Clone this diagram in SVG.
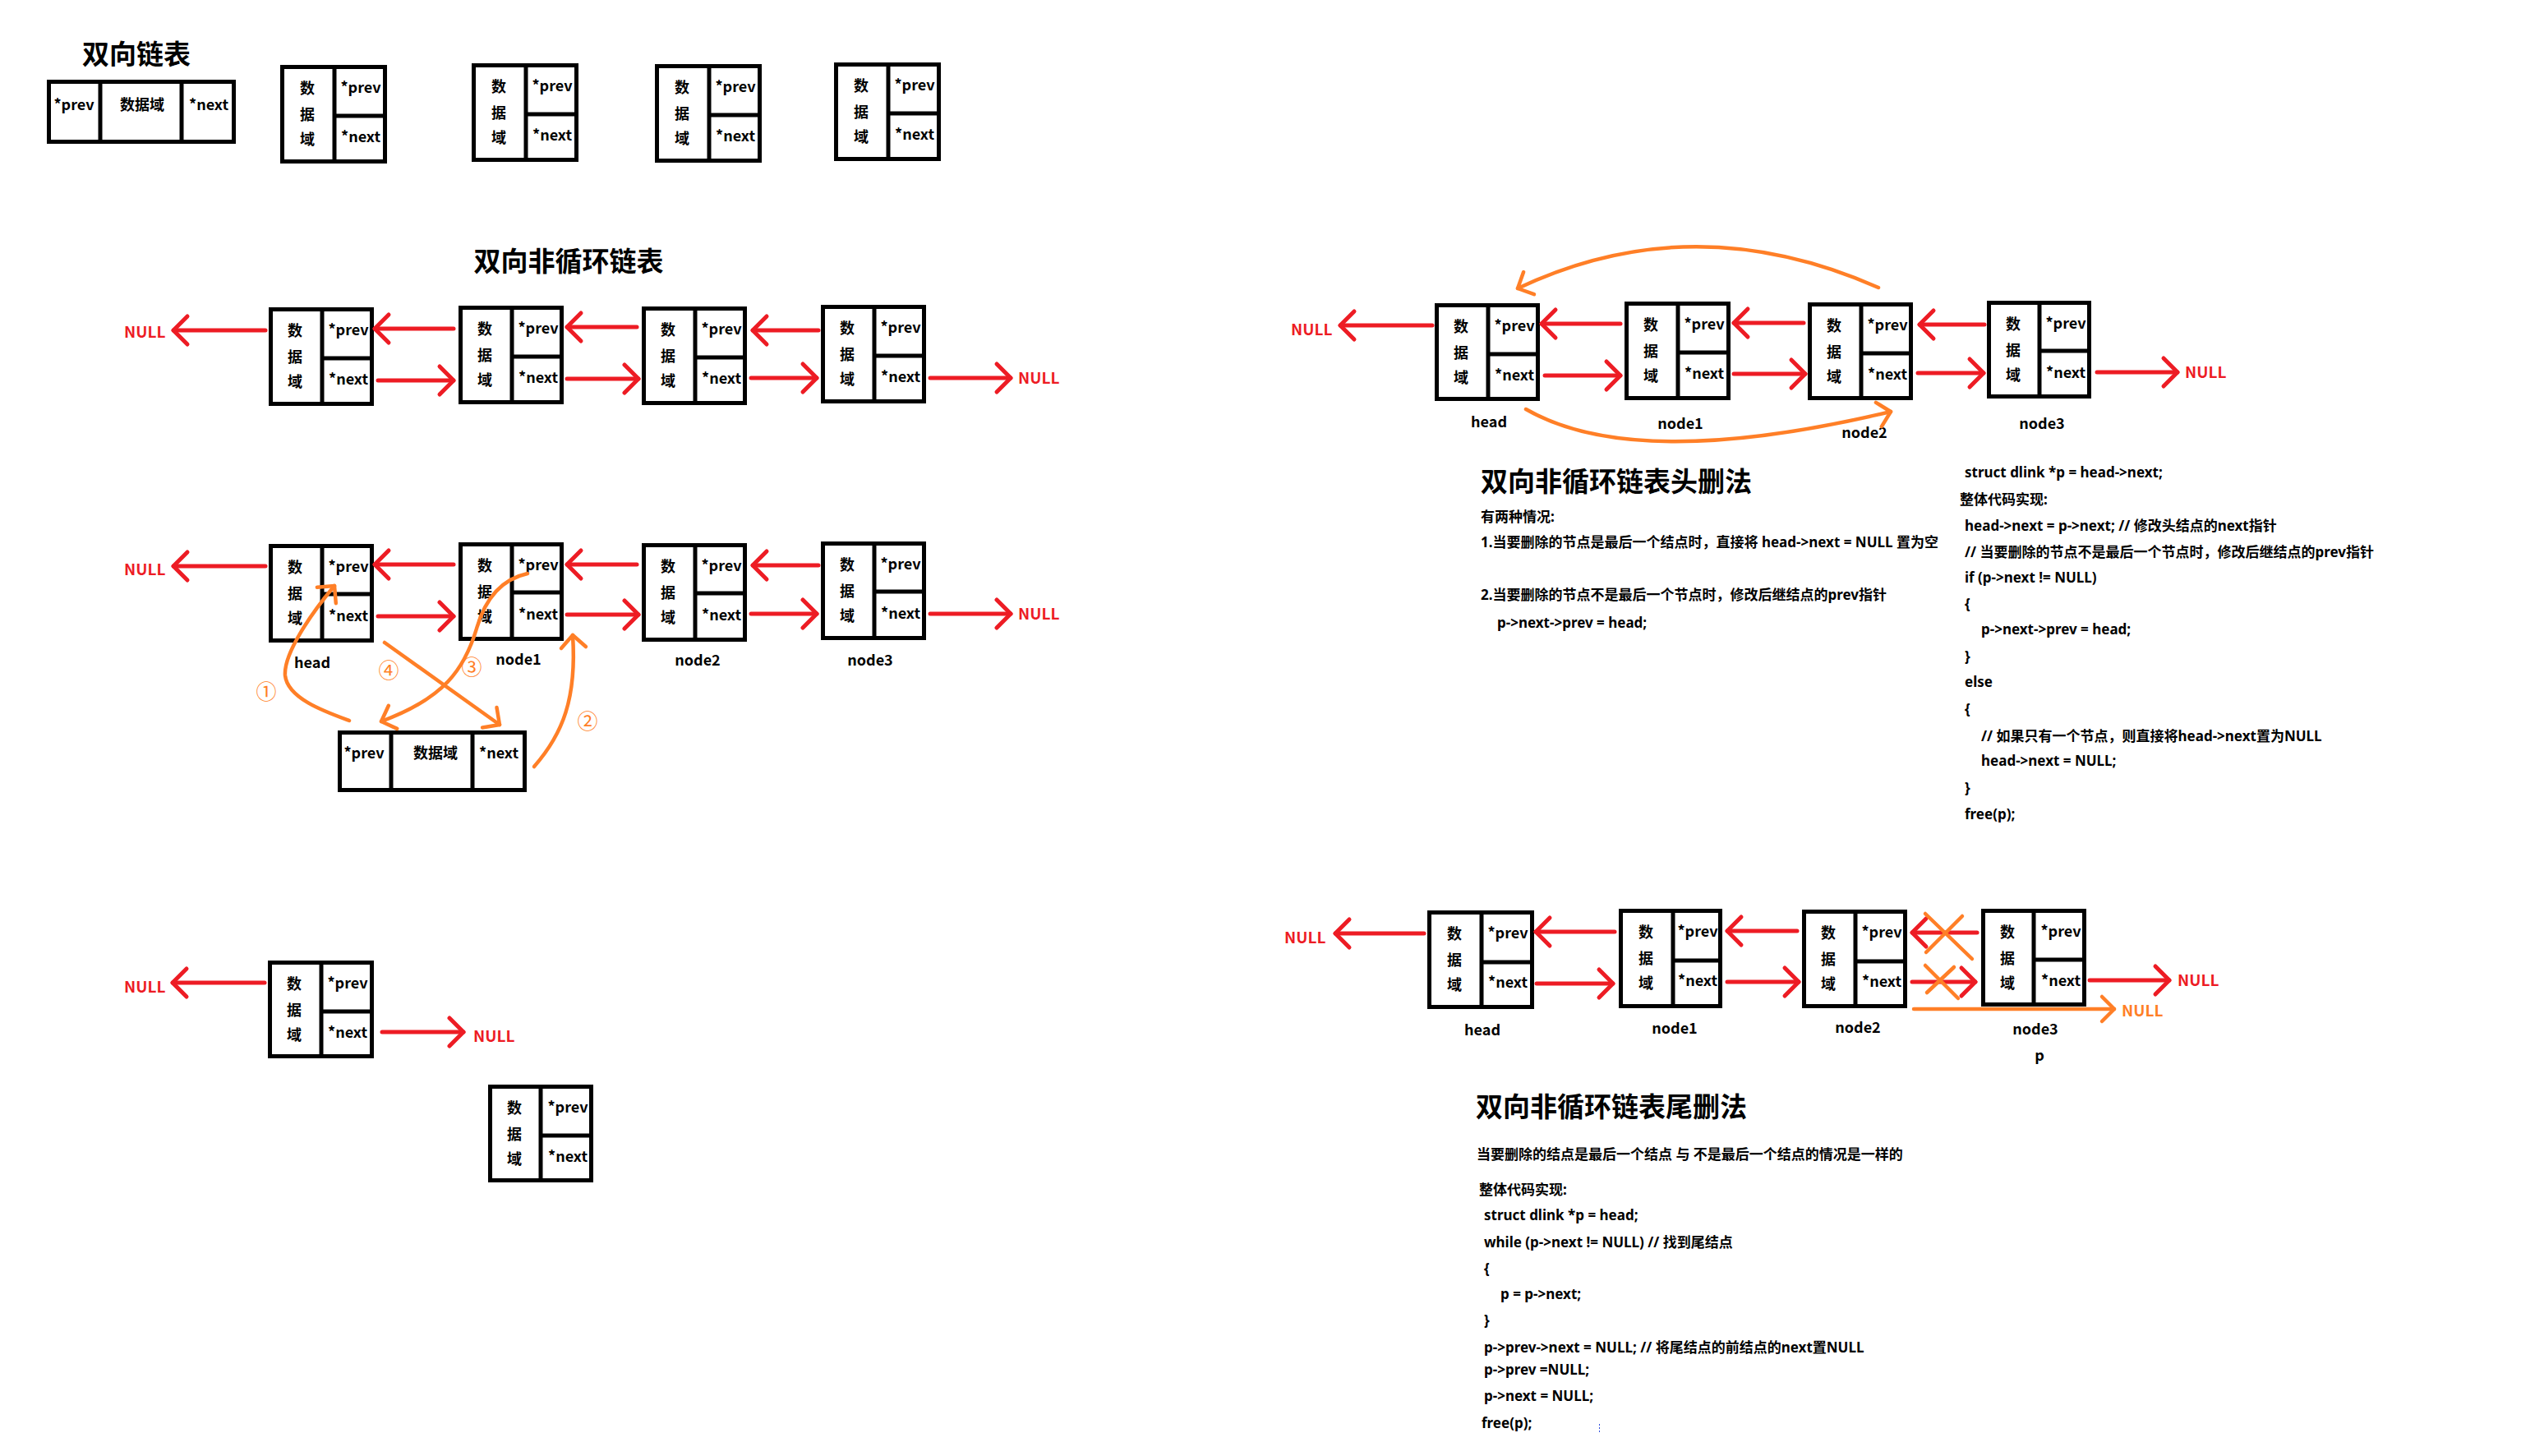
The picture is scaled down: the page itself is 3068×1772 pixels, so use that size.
<svg xmlns="http://www.w3.org/2000/svg" width="3068" height="1772" viewBox="0 0 3068 1772">
  <style>
    .box { fill: #fff; stroke: #000; stroke-width: 5; }
    .dv { stroke: #000; stroke-width: 5; }
    .t { font-family: "Noto Sans CJK SC", "Noto Sans", sans-serif; font-weight: 700; font-size: 18px; fill: #000; }
    .c { text-anchor: middle; }
    .p { font-family: "Noto Sans", "Noto Sans CJK SC", sans-serif; font-size: 17px; }
    .h1 { font-size: 33px; }
    .nul { fill: #ED1C24; font-size: 19px; }
    .onul { fill: #FF7F27; font-size: 19px; }
    .num { fill: #FF7F27; font-size: 25px; font-weight: 400; }
    .red { fill: none; stroke: #ED1C24; stroke-width: 5; stroke-linecap: round; marker-end: url(#ar); }
    .org { fill: none; stroke: #FF7F27; stroke-width: 4.5; stroke-linecap: round; marker-end: url(#ao); }
    .cross { fill: none; stroke: #FF7F27; stroke-width: 4.5; stroke-linecap: round; }
  </style>
  <defs>
    <marker id="ar" markerUnits="userSpaceOnUse" markerWidth="40" markerHeight="40" refX="20" refY="20" orient="auto" overflow="visible">
      <path d="M3,3 L20,20 L3,37" fill="none" stroke="#ED1C24" stroke-width="5" stroke-linecap="round" stroke-linejoin="round"/>
    </marker>
    <marker id="ao" markerUnits="userSpaceOnUse" markerWidth="40" markerHeight="40" refX="20" refY="20" orient="auto" overflow="visible">
      <path d="M5,5 L20,20 L5,35" fill="none" stroke="#FF7F27" stroke-width="4.5" stroke-linecap="round" stroke-linejoin="round"/>
    </marker>
  </defs>
  <rect width="3068" height="1772" fill="#fff"/>

  <!-- titles -->
  <text class="t h1" x="100" y="78">双向链表</text>
  <text class="t h1 c" x="692" y="330">双向非循环链表</text>

  <!-- ===== node layouts: first section ===== -->
  <g id="node-h0" transform="translate(57,97)">
    <rect class="box" x="2.5" y="2.5" width="225" height="73"/>
    <line class="dv" x1="65" y1="0" x2="65" y2="78"/>
    <line class="dv" x1="164" y1="0" x2="164" y2="78"/>
    <text class="t c" x="33" y="37">*prev</text>
    <text class="t c" x="116" y="37">数据域</text>
    <text class="t c" x="197" y="37">*next</text>
  </g>
  <g id="node-t1" transform="translate(341,79)">
    <rect class="box" x="2.5" y="2.5" width="125" height="115"/>
    <line class="dv" x1="66" y1="0" x2="66" y2="120"/>
    <line class="dv" x1="66" y1="62" x2="130" y2="62"/>
    <text class="t c" x="33" y="35">数</text><text class="t c" x="33" y="67">据</text><text class="t c" x="33" y="97">域</text>
    <text class="t c" x="98" y="34">*prev</text><text class="t c" x="98" y="94">*next</text>
  </g>
  <g id="node-t2" transform="translate(574,77)">
    <rect class="box" x="2.5" y="2.5" width="125" height="115"/>
    <line class="dv" x1="66" y1="0" x2="66" y2="120"/>
    <line class="dv" x1="66" y1="62" x2="130" y2="62"/>
    <text class="t c" x="33" y="35">数</text><text class="t c" x="33" y="67">据</text><text class="t c" x="33" y="97">域</text>
    <text class="t c" x="98" y="34">*prev</text><text class="t c" x="98" y="94">*next</text>
  </g>
  <g id="node-t3" transform="translate(797,78)">
    <rect class="box" x="2.5" y="2.5" width="125" height="115"/>
    <line class="dv" x1="66" y1="0" x2="66" y2="120"/>
    <line class="dv" x1="66" y1="62" x2="130" y2="62"/>
    <text class="t c" x="33" y="35">数</text><text class="t c" x="33" y="67">据</text><text class="t c" x="33" y="97">域</text>
    <text class="t c" x="98" y="34">*prev</text><text class="t c" x="98" y="94">*next</text>
  </g>
  <g id="node-t4" transform="translate(1015,76)">
    <rect class="box" x="2.5" y="2.5" width="125" height="115"/>
    <line class="dv" x1="66" y1="0" x2="66" y2="120"/>
    <line class="dv" x1="66" y1="62" x2="130" y2="62"/>
    <text class="t c" x="33" y="35">数</text><text class="t c" x="33" y="67">据</text><text class="t c" x="33" y="97">域</text>
    <text class="t c" x="98" y="34">*prev</text><text class="t c" x="98" y="94">*next</text>
  </g>

  <!-- ===== chain of four ===== -->
  <g id="node-a1" transform="translate(327,374)">
    <rect class="box" x="2.5" y="2.5" width="123" height="115"/>
    <line class="dv" x1="65" y1="0" x2="65" y2="120"/>
    <line class="dv" x1="65" y1="62" x2="128" y2="62"/>
    <text class="t c" x="32" y="35">数</text><text class="t c" x="32" y="67">据</text><text class="t c" x="32" y="97">域</text>
    <text class="t c" x="97" y="34">*prev</text><text class="t c" x="97" y="94">*next</text>
  </g>
  <g id="node-a2" transform="translate(558,372)">
    <rect class="box" x="2.5" y="2.5" width="123" height="115"/>
    <line class="dv" x1="65" y1="0" x2="65" y2="120"/>
    <line class="dv" x1="65" y1="62" x2="128" y2="62"/>
    <text class="t c" x="32" y="35">数</text><text class="t c" x="32" y="67">据</text><text class="t c" x="32" y="97">域</text>
    <text class="t c" x="97" y="34">*prev</text><text class="t c" x="97" y="94">*next</text>
  </g>
  <g id="node-a3" transform="translate(781,373)">
    <rect class="box" x="2.5" y="2.5" width="123" height="115"/>
    <line class="dv" x1="65" y1="0" x2="65" y2="120"/>
    <line class="dv" x1="65" y1="62" x2="128" y2="62"/>
    <text class="t c" x="32" y="35">数</text><text class="t c" x="32" y="67">据</text><text class="t c" x="32" y="97">域</text>
    <text class="t c" x="97" y="34">*prev</text><text class="t c" x="97" y="94">*next</text>
  </g>
  <g id="node-a4" transform="translate(999,371)">
    <rect class="box" x="2.5" y="2.5" width="123" height="115"/>
    <line class="dv" x1="65" y1="0" x2="65" y2="120"/>
    <line class="dv" x1="65" y1="62" x2="128" y2="62"/>
    <text class="t c" x="32" y="35">数</text><text class="t c" x="32" y="67">据</text><text class="t c" x="32" y="97">域</text>
    <text class="t c" x="97" y="34">*prev</text><text class="t c" x="97" y="94">*next</text>
  </g>

  <!-- ===== insertion after head ===== -->
  <g id="node-b-head" transform="translate(327,662)">
    <rect class="box" x="2.5" y="2.5" width="123" height="115"/>
    <line class="dv" x1="65" y1="0" x2="65" y2="120"/>
    <line class="dv" x1="65" y1="61" x2="128" y2="61"/>
    <text class="t c" x="32" y="35">数</text><text class="t c" x="32" y="67">据</text><text class="t c" x="32" y="97">域</text>
    <text class="t c" x="97" y="34">*prev</text><text class="t c" x="97" y="94">*next</text>
  </g>
  <g id="node-b-1" transform="translate(558,660)">
    <rect class="box" x="2.5" y="2.5" width="123" height="115"/>
    <line class="dv" x1="65" y1="0" x2="65" y2="120"/>
    <line class="dv" x1="65" y1="61" x2="128" y2="61"/>
    <text class="t c" x="32" y="35">数</text><text class="t c" x="32" y="67">据</text><text class="t c" x="32" y="97">域</text>
    <text class="t c" x="97" y="34">*prev</text><text class="t c" x="97" y="94">*next</text>
  </g>
  <g id="node-b-2" transform="translate(781,661)">
    <rect class="box" x="2.5" y="2.5" width="123" height="115"/>
    <line class="dv" x1="65" y1="0" x2="65" y2="120"/>
    <line class="dv" x1="65" y1="61" x2="128" y2="61"/>
    <text class="t c" x="32" y="35">数</text><text class="t c" x="32" y="67">据</text><text class="t c" x="32" y="97">域</text>
    <text class="t c" x="97" y="34">*prev</text><text class="t c" x="97" y="94">*next</text>
  </g>
  <g id="node-b-3" transform="translate(999,659)">
    <rect class="box" x="2.5" y="2.5" width="123" height="115"/>
    <line class="dv" x1="65" y1="0" x2="65" y2="120"/>
    <line class="dv" x1="65" y1="61" x2="128" y2="61"/>
    <text class="t c" x="32" y="35">数</text><text class="t c" x="32" y="67">据</text><text class="t c" x="32" y="97">域</text>
    <text class="t c" x="97" y="34">*prev</text><text class="t c" x="97" y="94">*next</text>
  </g>
  <g id="node-b-new" transform="translate(411,889)">
    <rect class="box" x="2.5" y="2.5" width="225" height="70"/>
    <line class="dv" x1="65" y1="0" x2="65" y2="75"/>
    <line class="dv" x1="164" y1="0" x2="164" y2="75"/>
    <text class="t c" x="32" y="34">*prev</text>
    <text class="t c" x="119" y="34">数据域</text>
    <text class="t c" x="196" y="34">*next</text>
  </g>
  <text class="t c" x="380" y="813">head</text>
  <text class="t c" x="631" y="809">node1</text>
  <text class="t c" x="849" y="810">node2</text>
  <text class="t c" x="1059" y="810">node3</text>
  <text class="t num c" x="324" y="851">①</text>
  <text class="t num c" x="715" y="887">②</text>
  <text class="t num c" x="574" y="821">③</text>
  <text class="t num c" x="473" y="825">④</text>

  <!-- ===== single node ===== -->
  <g id="node-c1" transform="translate(326,1169)">
    <rect class="box" x="2.5" y="2.5" width="124" height="114"/>
    <line class="dv" x1="65" y1="0" x2="65" y2="119"/>
    <line class="dv" x1="65" y1="62" x2="129" y2="62"/>
    <text class="t c" x="32" y="35">数</text><text class="t c" x="32" y="67">据</text><text class="t c" x="32" y="97">域</text>
    <text class="t c" x="97" y="34">*prev</text><text class="t c" x="97" y="94">*next</text>
  </g>
  <g id="node-c2" transform="translate(594,1320)">
    <rect class="box" x="2.5" y="2.5" width="123" height="114"/>
    <line class="dv" x1="64" y1="0" x2="64" y2="119"/>
    <line class="dv" x1="64" y1="62" x2="128" y2="62"/>
    <text class="t c" x="32" y="35">数</text><text class="t c" x="32" y="67">据</text><text class="t c" x="32" y="97">域</text>
    <text class="t c" x="97" y="34">*prev</text><text class="t c" x="97" y="94">*next</text>
  </g>

  <!-- ===== head deletion ===== -->
  <g id="node-d-head" transform="translate(1746,369)">
    <rect class="box" x="2.5" y="2.5" width="123" height="114"/>
    <line class="dv" x1="65" y1="0" x2="65" y2="119"/>
    <line class="dv" x1="65" y1="62" x2="128" y2="62"/>
    <text class="t c" x="32" y="35">数</text><text class="t c" x="32" y="67">据</text><text class="t c" x="32" y="97">域</text>
    <text class="t c" x="97" y="34">*prev</text><text class="t c" x="97" y="94">*next</text>
  </g>
  <g id="node-d-1" transform="translate(1977,367)">
    <rect class="box" x="2.5" y="2.5" width="124" height="115"/>
    <line class="dv" x1="65" y1="0" x2="65" y2="120"/>
    <line class="dv" x1="65" y1="62" x2="129" y2="62"/>
    <text class="t c" x="32" y="35">数</text><text class="t c" x="32" y="67">据</text><text class="t c" x="32" y="97">域</text>
    <text class="t c" x="97" y="34">*prev</text><text class="t c" x="97" y="94">*next</text>
  </g>
  <g id="node-d-2" transform="translate(2200,368)">
    <rect class="box" x="2.5" y="2.5" width="123" height="114"/>
    <line class="dv" x1="65" y1="0" x2="65" y2="119"/>
    <line class="dv" x1="65" y1="62" x2="128" y2="62"/>
    <text class="t c" x="32" y="35">数</text><text class="t c" x="32" y="67">据</text><text class="t c" x="32" y="97">域</text>
    <text class="t c" x="97" y="34">*prev</text><text class="t c" x="97" y="94">*next</text>
  </g>
  <g id="node-d-3" transform="translate(2418,366)">
    <rect class="box" x="2.5" y="2.5" width="122" height="114"/>
    <line class="dv" x1="64" y1="0" x2="64" y2="119"/>
    <line class="dv" x1="64" y1="61" x2="127" y2="61"/>
    <text class="t c" x="32" y="35">数</text><text class="t c" x="32" y="67">据</text><text class="t c" x="32" y="97">域</text>
    <text class="t c" x="96" y="34">*prev</text><text class="t c" x="96" y="94">*next</text>
  </g>
  <text class="t c" x="1812" y="520">head</text>
  <text class="t c" x="2045" y="522">node1</text>
  <text class="t c" x="2269" y="533">node2</text>
  <text class="t c" x="2485" y="522">node3</text>

  <text class="t h1" x="1802" y="598">双向非循环链表头删法</text>
  <text class="t p" x="1802" y="635">有两种情况:</text>
  <text class="t p" x="1802" y="666">1.当要删除的节点是最后一个结点时，直接将 head-&gt;next = NULL 置为空</text>
  <text class="t p" x="1802" y="730">2.当要删除的节点不是最后一个节点时，修改后继结点的prev指针</text>
  <text class="t p" x="1822" y="764">p-&gt;next-&gt;prev = head;</text>

  <text class="t p" x="2391" y="581">struct dlink *p = head-&gt;next;</text>
  <text class="t p" x="2385" y="614">整体代码实现:</text>
  <text class="t p" x="2391" y="646">head-&gt;next = p-&gt;next; // 修改头结点的next指针</text>
  <text class="t p" x="2391" y="678">// 当要删除的节点不是最后一个节点时，修改后继结点的prev指针</text>
  <text class="t p" x="2391" y="709">if (p-&gt;next != NULL)</text>
  <text class="t p" x="2391" y="741">{</text>
  <text class="t p" x="2411" y="772">p-&gt;next-&gt;prev = head;</text>
  <text class="t p" x="2391" y="805">}</text>
  <text class="t p" x="2391" y="836">else</text>
  <text class="t p" x="2391" y="869">{</text>
  <text class="t p" x="2411" y="902">// 如果只有一个节点，则直接将head-&gt;next置为NULL</text>
  <text class="t p" x="2411" y="932">head-&gt;next = NULL;</text>
  <text class="t p" x="2391" y="965">}</text>
  <text class="t p" x="2391" y="997">free(p);</text>

  <!-- ===== tail deletion ===== -->
  <g id="node-e-head" transform="translate(1737,1108)">
    <rect class="box" x="2.5" y="2.5" width="125" height="115"/>
    <line class="dv" x1="66" y1="0" x2="66" y2="120"/>
    <line class="dv" x1="66" y1="63" x2="130" y2="63"/>
    <text class="t c" x="33" y="35">数</text><text class="t c" x="33" y="67">据</text><text class="t c" x="33" y="97">域</text>
    <text class="t c" x="98" y="34">*prev</text><text class="t c" x="98" y="94">*next</text>
  </g>
  <g id="node-e-1" transform="translate(1970,1106)">
    <rect class="box" x="2.5" y="2.5" width="121" height="116"/>
    <line class="dv" x1="66" y1="0" x2="66" y2="121"/>
    <line class="dv" x1="66" y1="63" x2="126" y2="63"/>
    <text class="t c" x="33" y="35">数</text><text class="t c" x="33" y="67">据</text><text class="t c" x="33" y="97">域</text>
    <text class="t c" x="96" y="34">*prev</text><text class="t c" x="96" y="94">*next</text>
  </g>
  <g id="node-e-2" transform="translate(2193,1107)">
    <rect class="box" x="2.5" y="2.5" width="123" height="115"/>
    <line class="dv" x1="65" y1="0" x2="65" y2="120"/>
    <line class="dv" x1="65" y1="63" x2="128" y2="63"/>
    <text class="t c" x="32" y="35">数</text><text class="t c" x="32" y="67">据</text><text class="t c" x="32" y="97">域</text>
    <text class="t c" x="97" y="34">*prev</text><text class="t c" x="97" y="94">*next</text>
  </g>
  <g id="node-e-3" transform="translate(2411,1106)">
    <rect class="box" x="2.5" y="2.5" width="123" height="114"/>
    <line class="dv" x1="64" y1="0" x2="64" y2="119"/>
    <line class="dv" x1="64" y1="62" x2="128" y2="62"/>
    <text class="t c" x="32" y="35">数</text><text class="t c" x="32" y="67">据</text><text class="t c" x="32" y="97">域</text>
    <text class="t c" x="97" y="34">*prev</text><text class="t c" x="97" y="94">*next</text>
  </g>
  <text class="t c" x="1804" y="1260">head</text>
  <text class="t c" x="2038" y="1258">node1</text>
  <text class="t c" x="2261" y="1257">node2</text>
  <text class="t c" x="2477" y="1259">node3</text>
  <text class="t c" x="2482" y="1291">p</text>

  <text class="t h1" x="1796" y="1359">双向非循环链表尾删法</text>
  <text class="t p" x="1797" y="1411">当要删除的结点是最后一个结点 与 不是最后一个结点的情况是一样的</text>
  <text class="t p" x="1800" y="1454">整体代码实现:</text>
  <text class="t p" x="1806" y="1485">struct dlink *p = head;</text>
  <text class="t p" x="1806" y="1518">while (p-&gt;next != NULL) // 找到尾结点</text>
  <text class="t p" x="1806" y="1550">{</text>
  <text class="t p" x="1826" y="1581">p = p-&gt;next;</text>
  <text class="t p" x="1806" y="1613">}</text>
  <text class="t p" x="1806" y="1646">p-&gt;prev-&gt;next = NULL; // 将尾结点的前结点的next置NULL</text>
  <text class="t p" x="1806" y="1673">p-&gt;prev =NULL;</text>
  <text class="t p" x="1806" y="1705">p-&gt;next = NULL;</text>
  <text class="t p" x="1803" y="1738">free(p);</text>
  <line x1="1946.5" y1="1733" x2="1946.5" y2="1743" stroke="#3050e0" stroke-width="1" stroke-dasharray="2 2"/>

  <!-- NULL labels -->
  <text class="t nul" x="151" y="411">NULL</text>
  <text class="t nul" x="1239" y="467">NULL</text>
  <text class="t nul" x="151" y="700">NULL</text>
  <text class="t nul" x="1239" y="754">NULL</text>
  <text class="t nul" x="151" y="1208">NULL</text>
  <text class="t nul" x="576" y="1268">NULL</text>
  <text class="t nul" x="1571" y="408">NULL</text>
  <text class="t nul" x="2659" y="460">NULL</text>
  <text class="t nul" x="1563" y="1148">NULL</text>
  <text class="t nul" x="2650" y="1200">NULL</text>
  <text class="t onul" x="2582" y="1237">NULL</text>

  <!-- connectors -->
  <g id="connectors">
    <!-- chain of four -->
    <path class="red" d="M323,402 L211,402"/>
    <path class="red" d="M552,400 L456,400"/>
    <path class="red" d="M775,398 L690,398"/>
    <path class="red" d="M996,402 L916,402"/>
    <path class="red" d="M460,463 L552,463"/>
    <path class="red" d="M690,461 L777,461"/>
    <path class="red" d="M914,460 L994,460"/>
    <path class="red" d="M1132,460 L1230,460"/>

    <!-- insertion -->
    <path class="red" d="M323,689 L211,689"/>
    <path class="red" d="M552,687 L456,687"/>
    <path class="red" d="M775,687 L690,687"/>
    <path class="red" d="M996,688 L916,688"/>
    <path class="red" d="M460,750 L552,750"/>
    <path class="red" d="M690,748 L777,748"/>
    <path class="red" d="M914,747 L994,747"/>
    <path class="red" d="M1132,747 L1230,747"/>
    <path class="org" d="M425,877 C395,866 350,850 347,822 C345,795 380,745 407,713"/>
    <path class="org" d="M650,933 C685,893 702,850 697,773"/>
    <path class="org" d="M642,698 C610,705 590,730 580,765 C565,815 540,850 464,878"/>
    <path class="org" d="M468,782 L608,882"/>

    <!-- single node -->
    <path class="red" d="M322,1196 L210,1196"/>
    <path class="red" d="M465,1256 L564,1256"/>

    <!-- head deletion -->
    <path class="red" d="M1743,396 L1631,396"/>
    <path class="red" d="M1972,394 L1876,394"/>
    <path class="red" d="M2195,393 L2110,393"/>
    <path class="red" d="M2415,395 L2336,395"/>
    <path class="red" d="M1880,457 L1972,457"/>
    <path class="red" d="M2110,455 L2197,455"/>
    <path class="red" d="M2334,454 L2414,454"/>
    <path class="red" d="M2552,453 L2650,453"/>
    <path class="org" d="M2286,350 Q2060,250 1847,351"/>
    <path class="org" d="M1857,498 Q1990,575 2301,501"/>

    <!-- tail deletion -->
    <path class="red" d="M1733,1136 L1625,1136"/>
    <path class="red" d="M1965,1134 L1869,1134"/>
    <path class="red" d="M2187,1133 L2102,1133"/>
    <path class="red" d="M2406,1135 L2327,1135"/>
    <path class="red" d="M1870,1197 L1963,1197"/>
    <path class="red" d="M2102,1195 L2189,1195"/>
    <path class="red" d="M2327,1195 L2404,1195"/>
    <path class="red" d="M2543,1193 L2640,1193"/>
    <path class="org" d="M2329,1228 L2573,1228"/>
    <path class="cross" d="M2343,1112 L2400,1167 M2388,1115 L2344,1159"/>
    <path class="cross" d="M2343,1175 L2383,1215 M2378,1177 L2345,1208"/>
  </g>
</svg>
